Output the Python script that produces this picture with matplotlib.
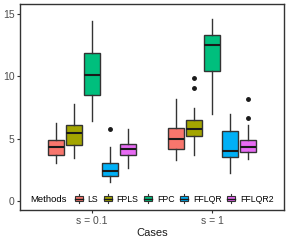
import matplotlib
matplotlib.use('Agg')
import matplotlib.pyplot as plt
from matplotlib.patches import Rectangle
from matplotlib.lines import Line2D
from matplotlib.legend_handler import HandlerBase
from matplotlib.offsetbox import HPacker

plt.rcParams['font.family'] = ['Liberation Sans', 'DejaVu Sans']

# Data: box stats per method, per case
cases = ['s = 0.1', 's = 1']
methods = ['LS', 'FPLS', 'FPC', 'FFLQR', 'FFLQR2']
colors = ['#F8766D', '#A3A500', '#00BF7D', '#00B0F6', '#E76BF3']

# [whislo, q1, median, q3, whishi]
ls_stats = [[3.07, 3.69, 4.31, 4.92, 6.23], [3.29, 4.19, 5.00, 5.85, 8.18]]
fpls_stats = [[3.47, 4.47, 5.43, 6.07, 7.78], [3.69, 5.19, 5.80, 6.47, 7.43]]
fpc_stats = [[6.42, 8.50, 10.10, 11.84, 14.43], [6.98, 10.42, 12.53, 13.34, 14.57]]
fflqr_stats = [[1.52, 2.03, 2.43, 3.02, 4.31], [2.22, 3.55, 4.01, 5.61, 6.95]]
fflqr2_stats = [[2.62, 3.66, 4.15, 4.60, 5.77], [3.37, 3.90, 4.31, 4.89, 6.09]]

ls_out = [[], []]
fpls_out = [[], [9.06, 9.84]]
fpc_out = [[], []]
fflqr_out = [[5.77], []]
fflqr2_out = [[], [6.68, 8.16]]

all_stats = [ls_stats, fpls_stats, fpc_stats, fflqr_stats, fflqr2_stats]
all_out = [ls_out, fpls_out, fpc_out, fflqr_out, fflqr2_out]

edge = '#333333'
fig = plt.figure(figsize=(2.89, 2.41), dpi=100)
ax = fig.add_axes([20 / 289, 1 - 210 / 241, 264 / 289, 206 / 241])

offsets = [-0.3, -0.15, 0.0, 0.15, 0.3]
for m, (st, outs, col) in enumerate(zip(all_stats, all_out, colors)):
    bxp_stats = []
    for c in range(len(cases)):
        lo, q1, med, q3, hi = st[c]
        bxp_stats.append({'whislo': lo, 'q1': q1, 'med': med, 'q3': q3, 'whishi': hi,
                          'fliers': outs[c]})
    pos = [c + 1 + offsets[m] for c in range(len(cases))]
    ax.bxp(bxp_stats, positions=pos, widths=0.135, patch_artist=True, showcaps=False,
           boxprops=dict(facecolor=col, edgecolor=edge, linewidth=1.0),
           whiskerprops=dict(color=edge, linewidth=1.0),
           medianprops=dict(color='#1a1a1a', linewidth=1.5),
           flierprops=dict(marker='o', markerfacecolor='#1a1a1a', markeredgecolor='#1a1a1a',
                           markersize=2.5, linestyle='none'),
           manage_ticks=False)

ax.set_xlim(0.4, 2.6)
ax.set_ylim(-0.72, 15.8)
ax.set_xticks([1, 2])
ax.set_xticklabels(cases)
ax.set_yticks([0, 5, 10, 15])
ax.tick_params(axis='both', colors='#333333', labelcolor='#4D4D4D', labelsize=7.5,
               length=2.5, width=0.8, pad=1.5)
for sp in ax.spines.values():
    sp.set_color('#333333')
    sp.set_linewidth(1.0)
ax.set_xlabel('Cases', fontsize=8, color='#1a1a1a', labelpad=2)


class HandlerBox(HandlerBase):
    def create_artists(self, legend, orig_handle, xdescent, ydescent, width, height, fontsize, trans):
        col = orig_handle.get_facecolor()
        w = width * 0.8
        x0 = -xdescent + (width - w) / 2
        cx = x0 + w / 2
        y0 = -ydescent + height * 0.2
        h = height * 0.6
        rect = Rectangle((x0, y0), w, h, facecolor=col, edgecolor=edge, linewidth=0.8, transform=trans)
        med = Line2D([x0, x0 + w], [y0 + h / 2] * 2, color='#1a1a1a', linewidth=1.0, transform=trans)
        wt = Line2D([cx, cx], [y0 + h, -ydescent + height], color=edge, linewidth=0.8, transform=trans)
        wb = Line2D([cx, cx], [-ydescent, y0], color=edge, linewidth=0.8, transform=trans)
        return [wt, wb, rect, med]


handles = [Rectangle((0, 0), 1, 1, facecolor=c) for c in colors]
leg = ax.legend(handles, methods, title='Methods', loc='center', bbox_to_anchor=(0.5, 0.053),
                ncol=5, frameon=False, fontsize=6.3, title_fontsize=6.8,
                handler_map={Rectangle: HandlerBox()}, handlelength=1.15, handleheight=1.1,
                handletextpad=0.4, columnspacing=0.55, borderpad=0.1)
# title on the left of the entries
leg._legend_box._children = [HPacker(pad=0, sep=5, children=[leg._legend_title_box, leg._legend_handle_box],
                                     align='center')]

fig.savefig('out.png', dpi=100)
